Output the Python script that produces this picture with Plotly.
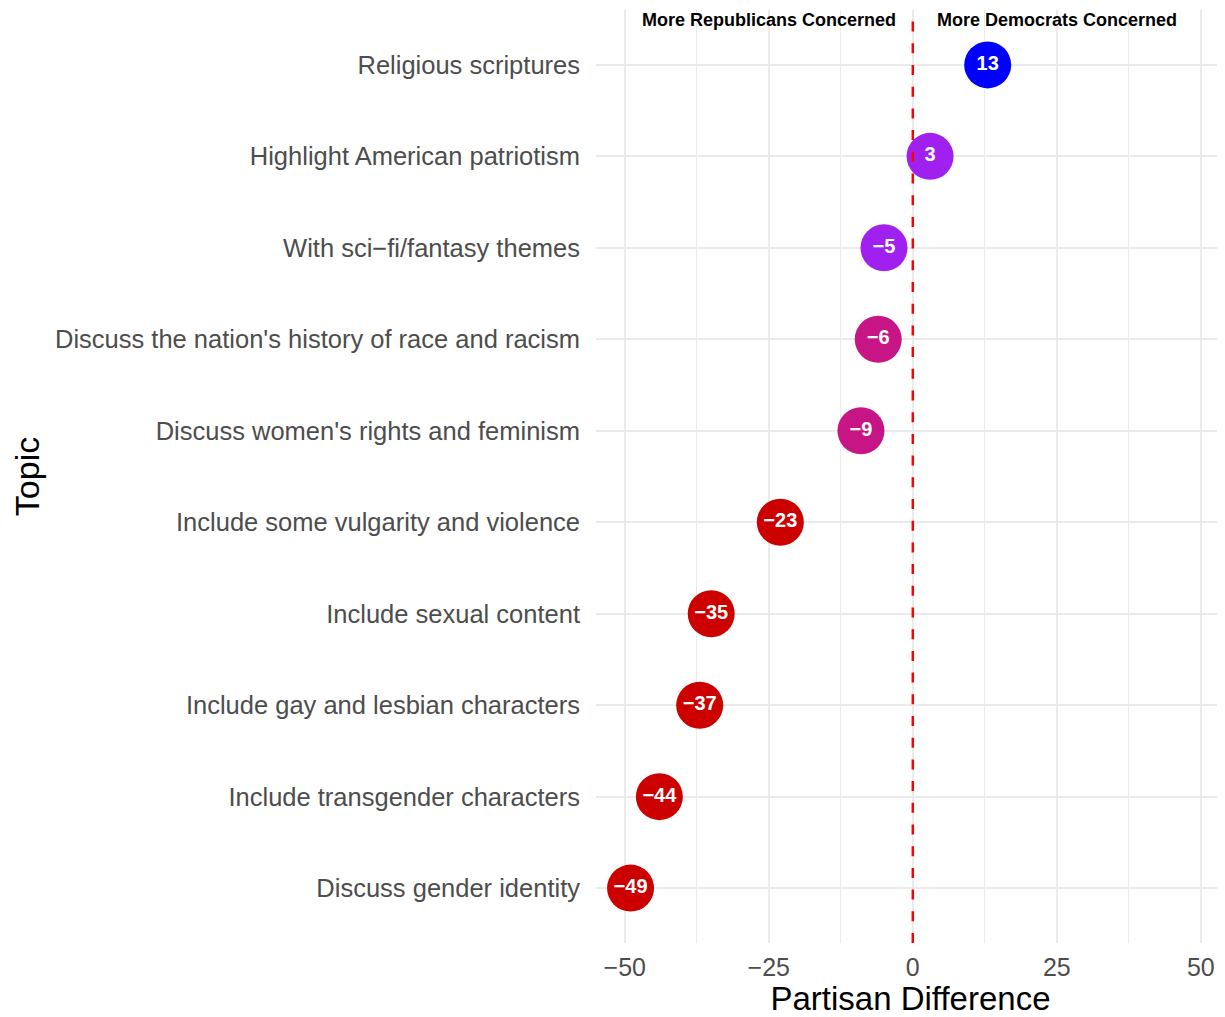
"""Partisan difference dot chart"""
import plotly.graph_objects as go

topics = [
    "Discuss gender identity",
    "Include transgender characters",
    "Include gay and lesbian characters",
    "Include sexual content",
    "Include some vulgarity and violence",
    "Discuss women's rights and feminism",
    "Discuss the nation's history of race and racism",
    "With sci\u2212fi/fantasy themes",
    "Highlight American patriotism",
    "Religious scriptures",
]
diff = [-49, -44, -37, -35, -23, -9, -6, -5, 3, 13]
colors = ["#CD0000", "#CD0000", "#CD0000", "#CD0000", "#CD0000",
          "#C71585", "#C71585", "#A020F0", "#A020F0", "#0000FF"]

x_ticks = [-50, -25, 0, 25, 50]
x_tick_text = ["\u221250", "\u221225", "0", "25", "50"]

FONT = "Liberation Sans, Arial, sans-serif"
GRID = "#EBEBEB"


def _minus(v: int) -> str:
    return str(v).replace("-", "\u2212")


fig = go.Figure()
fig.add_trace(go.Scatter(
    x=diff, y=topics, mode="markers+text",
    marker=dict(size=47, color=colors, line=dict(width=0)),
    text=[_minus(v) for v in diff],
    textposition="middle center",
    textfont=dict(color="white", size=20, family=FONT, weight="bold"),
    showlegend=False, hoverinfo="skip", cliponaxis=False,
))

fig.add_shape(type="line", x0=0, x1=0, xref="x", y0=0, y1=1, yref="paper",
              line=dict(color="#FF0000", width=2.5, dash="10px,11.7px"), layer="above")

for xpos, label in [(-25, "More Republicans Concerned"), (25, "More Democrats Concerned")]:
    fig.add_annotation(x=xpos, y=9.49, xref="x", yref="y", text=f"<b>{label}</b>",
                       showarrow=False, font=dict(color="black", size=18, family=FONT))

# page body has an 8px margin, so the figure is sized to fit the window
fig.update_layout(
    width=1217, height=1009,
    paper_bgcolor="white", plot_bgcolor="white",
    margin=dict(l=588, r=0, t=2, b=74),
    font=dict(family=FONT, color="#4D4D4D"),
    xaxis=dict(
        range=[-55, 54.2], tickvals=x_ticks, ticktext=x_tick_text,
        tickfont=dict(size=25, color="#4D4D4D"),
        showgrid=True, gridcolor=GRID, gridwidth=2, zeroline=False,
        minor=dict(tickvals=[-37.5, -12.5, 12.5, 37.5], showgrid=True,
                   gridcolor=GRID, gridwidth=1),
        ticks="", ticklabelstandoff=7, automargin=False,
        title=dict(text="Partisan Difference", font=dict(size=33, color="black"), standoff=10),
    ),
    yaxis=dict(
        type="category", categoryorder="array", categoryarray=topics,
        range=[-0.6, 9.6],
        tickfont=dict(size=25.5, color="#4D4D4D"),
        showgrid=True, gridcolor=GRID, gridwidth=2, zeroline=False,
        ticks="", ticklabelstandoff=15, automargin=False,
        title=dict(text="Topic", font=dict(size=34, color="black"), standoff=16),
    ),
)

fig.write_html("out.html")
